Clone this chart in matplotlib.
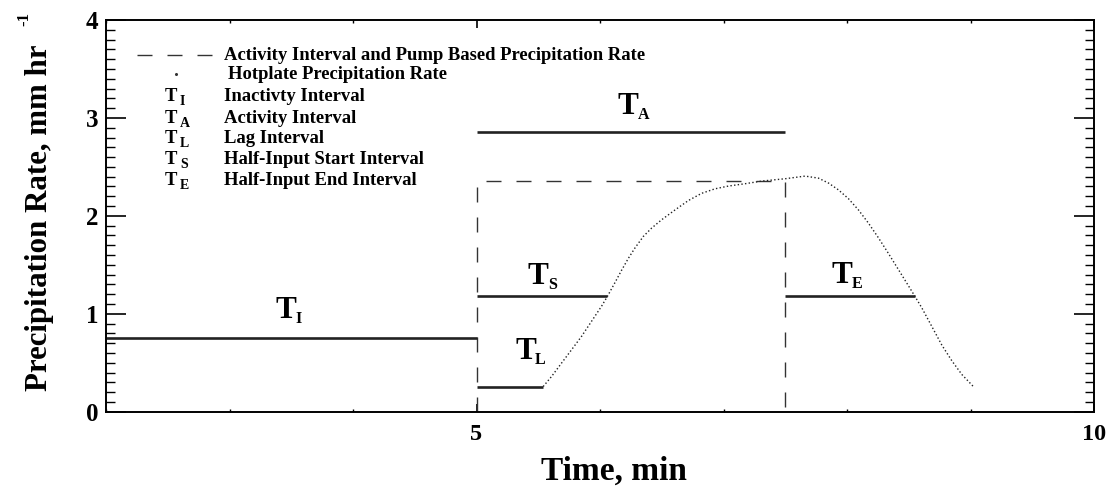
import matplotlib
matplotlib.use("Agg")
import matplotlib.pyplot as plt
from matplotlib.ticker import FixedLocator, MultipleLocator
from matplotlib.transforms import offset_copy

plt.rcParams['font.family'] = ['Liberation Serif', 'DejaVu Serif']
plt.rcParams['font.weight'] = 'bold'

# ---- data -------------------------------------------------------------
pump_rate = 2.355                 # pump based precipitation rate, mm/hr
half_input = pump_rate / 2.0
activity_start, activity_end = 5.0, 7.5

inactivity_x = [2.0, 5.0]
inactivity_y = 0.75
activity_bar_y = 2.86
lag_x = [5.0, 5.54]
lag_y = 0.257
start_x = [5.0, 6.06]
end_x = [7.5, 8.55]

hotplate_time = [5.540, 5.608, 5.689, 5.770, 5.851, 5.932, 6.013, 6.060, 6.121,
                 6.175, 6.229, 6.283, 6.351, 6.418, 6.499, 6.607, 6.715, 6.823,
                 6.931, 7.039, 7.174, 7.309, 7.499, 7.661, 7.769, 7.850, 7.931,
                 8.012, 8.093, 8.174, 8.255, 8.336, 8.417, 8.498, 8.550, 8.606,
                 8.687, 8.768, 8.849, 8.930, 9.023]
hotplate_rate = [0.257, 0.360, 0.497, 0.633, 0.770, 0.924, 1.078, 1.178, 1.318,
                 1.445, 1.565, 1.672, 1.790, 1.875, 1.960, 2.060, 2.156, 2.230,
                 2.276, 2.304, 2.328, 2.355, 2.379, 2.406, 2.385, 2.335, 2.265,
                 2.175, 2.060, 1.925, 1.775, 1.615, 1.450, 1.285, 1.178, 1.060,
                 0.870, 0.680, 0.520, 0.380, 0.257]

legend_symbols = ['', '', 'I', 'A', 'L', 'S', 'E']
legend_texts = ['Activity Interval and Pump Based Precipitation Rate',
                'Hotplate Precipitation Rate',
                'Inactivty Interval',
                'Activity Interval',
                'Lag Interval',
                'Half-Input Start Interval',
                'Half-Input End Interval']

x_major_ticks = [5, 10]
x_tick_labels = ['5', '10']

# ---- figure -----------------------------------------------------------
W, H = 1110, 487
fig = plt.figure(figsize=(W / 100, H / 100), dpi=100)
L, R, B, T = 106, 1094, 411.7, 20
ax = fig.add_axes([L / W, 1 - B / H, (R - L) / W, (B - T) / H])
ax.set_xlim(2, 10)
ax.set_ylim(0, 4)

for s in ax.spines.values():
    s.set_linewidth(1.4)

ax.xaxis.set_major_locator(FixedLocator(x_major_ticks))
ax.set_xticklabels(x_tick_labels)
ax.xaxis.set_minor_locator(MultipleLocator(1))
ax.yaxis.set_major_locator(MultipleLocator(1))
ax.yaxis.set_minor_locator(MultipleLocator(0.1))
ax.tick_params(axis='x', which='major', direction='in', length=6, width=1.2,
               top=True, labelsize=17.5, pad=9)
ax.tick_params(axis='x', which='minor', direction='in', length=2.5, width=1.0,
               top=True)
ax.tick_params(axis='y', which='major', direction='in', length=14.5, width=1.2,
               right=True, labelsize=18, pad=5.5)
ax.tick_params(axis='y', which='minor', direction='in', length=6.5, width=1.0,
               right=True)

dash = (0, (10.8, 10.8))
line_kw = dict(color='#222222', lw=1.9, solid_capstyle='butt')

# pump based activity rectangle
ax.plot([activity_start, activity_start, activity_end, activity_end],
        [0, pump_rate, pump_rate, 0], color='#333333', lw=1.0, linestyle=dash)

# hotplate measured rate
ax.plot(hotplate_time, hotplate_rate, color='#222222', lw=1.0, linestyle=':')

# interval bars
ax.plot(inactivity_x, [inactivity_y] * 2, **line_kw)
ax.plot([activity_start, activity_end], [activity_bar_y] * 2, **line_kw)
ax.plot(lag_x, [lag_y] * 2, **line_kw)
ax.plot(start_x, [half_input] * 2, **line_kw)
ax.plot(end_x, [half_input] * 2, **line_kw)


def px_to_data(px, py):
    return 2 + (px - L) / (R - L) * 8, (B - py) / (B - T) * 4


def symbol(x, y, sub, size, sub_size, dx, dy, transform):
    ax.text(x, y, 'T', fontsize=size, ha='left', va='baseline',
            transform=transform)
    tr = offset_copy(transform, fig=fig, x=dx, y=-dy, units='dots')
    ax.text(x, y, sub, fontsize=sub_size, ha='left', va='baseline',
            transform=tr)


# interval labels
for (px, py), sub in [((275, 318), 'I'), ((618, 114), 'A'), ((528, 284), 'S'),
                      ((515, 359), 'L'), ((832, 283), 'E')]:
    xd, yd = px_to_data(px, py)
    symbol(xd, yd, sub, 22.5, 11.5, 20, 5, ax.transData)

# legend block
leg_base = [60, 79, 101, 123, 143, 164, 185]
text_x = [224, 228, 224, 224, 224, 224, 224]
for i, (sym, txt) in enumerate(zip(legend_symbols, legend_texts)):
    xd, yd = px_to_data(text_x[i], leg_base[i])
    ax.text(xd, yd, txt, fontsize=13.4, ha='left', va='baseline')
    if sym:
        xs, ys = px_to_data(165, leg_base[i])
        symbol(xs, ys, sym, 13.4, 10, 15, 4, ax.transData)

x0, y0 = px_to_data(137, leg_base[0] - 5)
x1, _ = px_to_data(212, leg_base[0] - 5)
ax.plot([x0, x1], [y0, y0], color='#333333', lw=1.0, linestyle=dash)
xd, yd = px_to_data(176, leg_base[1] - 5)
ax.plot([xd], [yd], marker='o', markersize=1.2, color='#333333', lw=0)

# axis titles
fig.text(613.5 / W, 1 - 480 / H, 'Time, min', fontsize=24, ha='center',
         va='baseline')
fig.text(40 / W, 1 - 217.5 / H, 'Precipitation Rate, mm hr', fontsize=22.2,
         rotation=90, ha='center', va='center')
fig.text(24 / W, 1 - 19 / H, '-1', fontsize=12, rotation=90, ha='center',
         va='center')

fig.savefig('out.png', dpi=100)
